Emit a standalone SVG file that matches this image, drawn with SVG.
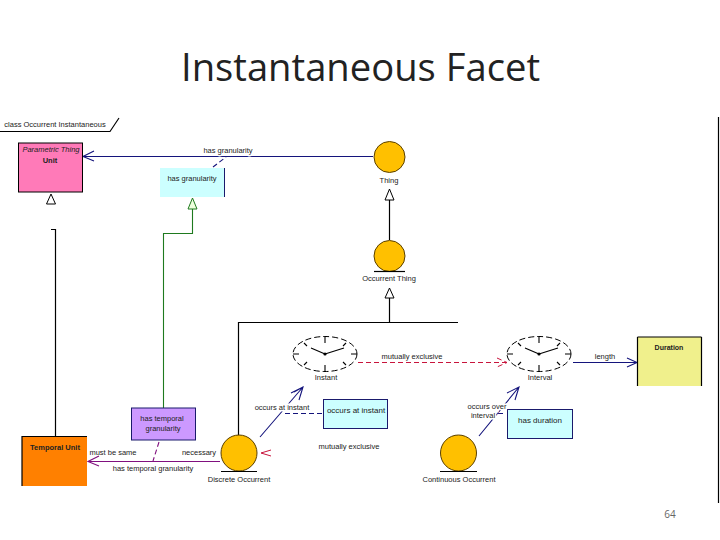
<svg xmlns="http://www.w3.org/2000/svg" width="720" height="540" viewBox="0 0 720 540">
<style>
text{font-family:"Liberation Sans",Arial,sans-serif;font-size:7.5px;fill:#222;text-anchor:middle}
.title{font-family:"Open Sans","Noto Sans",sans-serif;font-size:38.2px;fill:#222;text-anchor:start}
.pg{font-family:"Open Sans","Noto Sans",sans-serif;font-size:10px;fill:#666}
.halo{paint-order:stroke;stroke:#fff;stroke-width:3px}
.k{fill:none;stroke:#000;stroke-width:1.2}
.blue{fill:none;stroke:#14147c;stroke-width:1.1}
.green{fill:none;stroke:#1f7a1f;stroke-width:1.1}
.purple{fill:none;stroke:#80107f;stroke-width:1.1}
.red{fill:none;stroke:#c8143c;stroke-width:1}
.dash{stroke-dasharray:5 3}
.tri{fill:#fff;stroke:#000;stroke-width:1}
.ball{fill:#ffc000;stroke:#5a4000;stroke-width:1}
.hand{fill:none;stroke:#000;stroke-width:1.1}
.face{fill:#fff;stroke:#000;stroke-width:1;stroke-dasharray:6 3}
</style>
<defs>
<g id="clock">
<ellipse class="face" cx="0" cy="0" rx="32" ry="17.5"/>
<path class="hand" d="M0-17V-11M0 17V11M-32 0H-26M32 0H26M-21-11L-18-8M21-11L18-8M-21 11L-18 8M21 11L18 8"/>
<path class="hand" d="M0 0L-14-6M0 0L19-6" stroke-width="1.4"/>
<circle r="1.6" cx="0" cy="0" fill="#000"/>
</g>
</defs>
<rect width="720" height="540" fill="#fff"/>
<text class="title" x="181" y="81">Instantaneous Facet</text>
<text class="pg" x="670" y="518">64</text>
<g id="frame">
<path class="k" d="M0 131.500H110L119 118" stroke-width="1"/>
<text x="55" y="127" style="font-size:7.500px">class Occurrent Instantaneous</text>
<path class="k" d="M718.500 117V503" stroke-width="2"/>
</g>
<g id="connectors">
<path class="blue" d="M83 156.500H373M94 151L83 156.500L94 161"/>
<path class="blue dash" d="M213 167L226 157" stroke-width=".8"/>
<path class="green" d="M192.500 209V233.500H163.500V408"/>
<path class="tri" d="M192.500 198L197 209H188Z" style="fill:#eeffdd;stroke:#1f7a1f"/>
<path class="k" d="M51 229.500H55.500V436"/>
<path class="tri" d="M51 194L55.500 204H46.500Z"/>
<path class="k" d="M389.500 200V240"/>
<path class="tri" d="M389.500 189L394 200H385Z"/>
<path class="k" d="M238.500 436V322.500H458M389.500 322.500V298"/>
<path class="tri" d="M389.500 288L394 298H385Z"/>
<path class="purple" d="M220 461.500H88M99 456L88 461.500L99 466"/>
<path class="purple dash" d="M159 442L153 461"/>
<path class="red dash" d="M358 362.500H507M497 358L507 362.500L497 367"/>
<path class="red" d="M271 450L261 453L271 456"/>
<path class="blue" d="M260 437L303 387M291 393L303 387L299 400M294 392L303 387"/>
<path class="blue" d="M479 436L519 387M507 393L519 387L515 400"/>
<path class="blue dash" d="M285 413.500H323" stroke-width=".8"/>
<path class="blue dash" d="M490 413.500H506" stroke-width=".8"/>
<path class="blue" d="M573 362.500H637M627 358L637 362.500L627 367"/>
</g>
<g id="parametric-thing-unit">
<rect x="18.500" y="143" width="64" height="49" fill="#ff7ab8" stroke="#000" stroke-width="1"/>
<text x="51" y="152" style="font-style:italic">Parametric Thing</text>
<text x="50" y="163" style="font-weight:bold">Unit</text>
</g>
<g id="has-granularity">
<rect x="160" y="168" width="65" height="29" fill="#ccffff"/>
<path d="M224.500 168V197" stroke="#1a1a6c" fill="none"/>
<text x="192" y="181">has granularity</text>
</g>
<text class="halo" x="228" y="153">has granularity</text>
<g id="thing">
<circle class="ball" cx="389.500" cy="157" r="15.500"/>
<text x="389" y="183">Thing</text>
</g>
<g id="occurrent-thing">
<circle class="ball" cx="389.500" cy="256" r="15.500"/>
<path class="k" d="M374 271.500H405"/>
<text x="389" y="281">Occurrent Thing</text>
</g>
<g id="instant">
<use href="#clock" x="325" y="354"/>
<text x="326" y="380">Instant</text>
</g>
<g id="interval">
<use href="#clock" x="539" y="354"/>
<text x="540" y="380">Interval</text>
</g>
<text x="412" y="359">mutually exclusive</text>
<text x="605" y="359">length</text>
<g id="duration">
<rect x="637.500" y="337" width="64" height="49" fill="#f0f08c"/>
<path class="k" d="M637.500 337V386M701.500 337V386M637.500 337H701.500" stroke-width="1"/>
<text x="669" y="350" style="font-weight:bold;font-size:7px">Duration</text>
</g>
<g id="occurs-at-instant">
<rect x="323.500" y="399.500" width="64" height="29" fill="#ccffff" stroke="#1a1a6c"/>
<text x="356" y="413" style="font-size:8px">occurs at instant</text>
</g>
<text class="halo" x="282" y="410">occurs at instant</text>
<text x="349" y="449">mutually exclusive</text>
<g id="has-duration">
<rect x="507.500" y="409.500" width="65" height="29" fill="#ccffff" stroke="#1a1a6c"/>
<text x="540" y="423" style="font-size:8px">has duration</text>
</g>
<text class="halo" x="487" y="409">occurs over</text>
<text class="halo" x="483" y="418">interval</text>
<g id="has-temporal-granularity">
<rect x="131.500" y="408" width="64" height="32" fill="#cc99ff" stroke="#1a1a6c"/>
<text x="162" y="421">has temporal</text>
<text x="163" y="431">granularity</text>
</g>
<g id="temporal-unit">
<rect x="22" y="436.500" width="65" height="49.500" fill="#ff8000"/>
<path class="k" d="M22 486V436.500H87" stroke-width="1"/>
<text x="55" y="450" style="font-weight:bold;font-size:7.500px">Temporal Unit</text>
</g>
<text x="113" y="455">must be same</text>
<text x="199" y="455">necessary</text>
<text x="153" y="471">has temporal granularity</text>
<g id="discrete-occurrent">
<circle class="ball" cx="239" cy="453" r="18"/>
<path class="k" d="M221 471.500H257"/>
<text x="239" y="482">Discrete Occurrent</text>
</g>
<g id="continuous-occurrent">
<circle class="ball" cx="458.500" cy="453" r="18"/>
<path class="k" d="M440 471.500H477"/>
<text x="459" y="482">Continuous Occurrent</text>
</g>
</svg>
